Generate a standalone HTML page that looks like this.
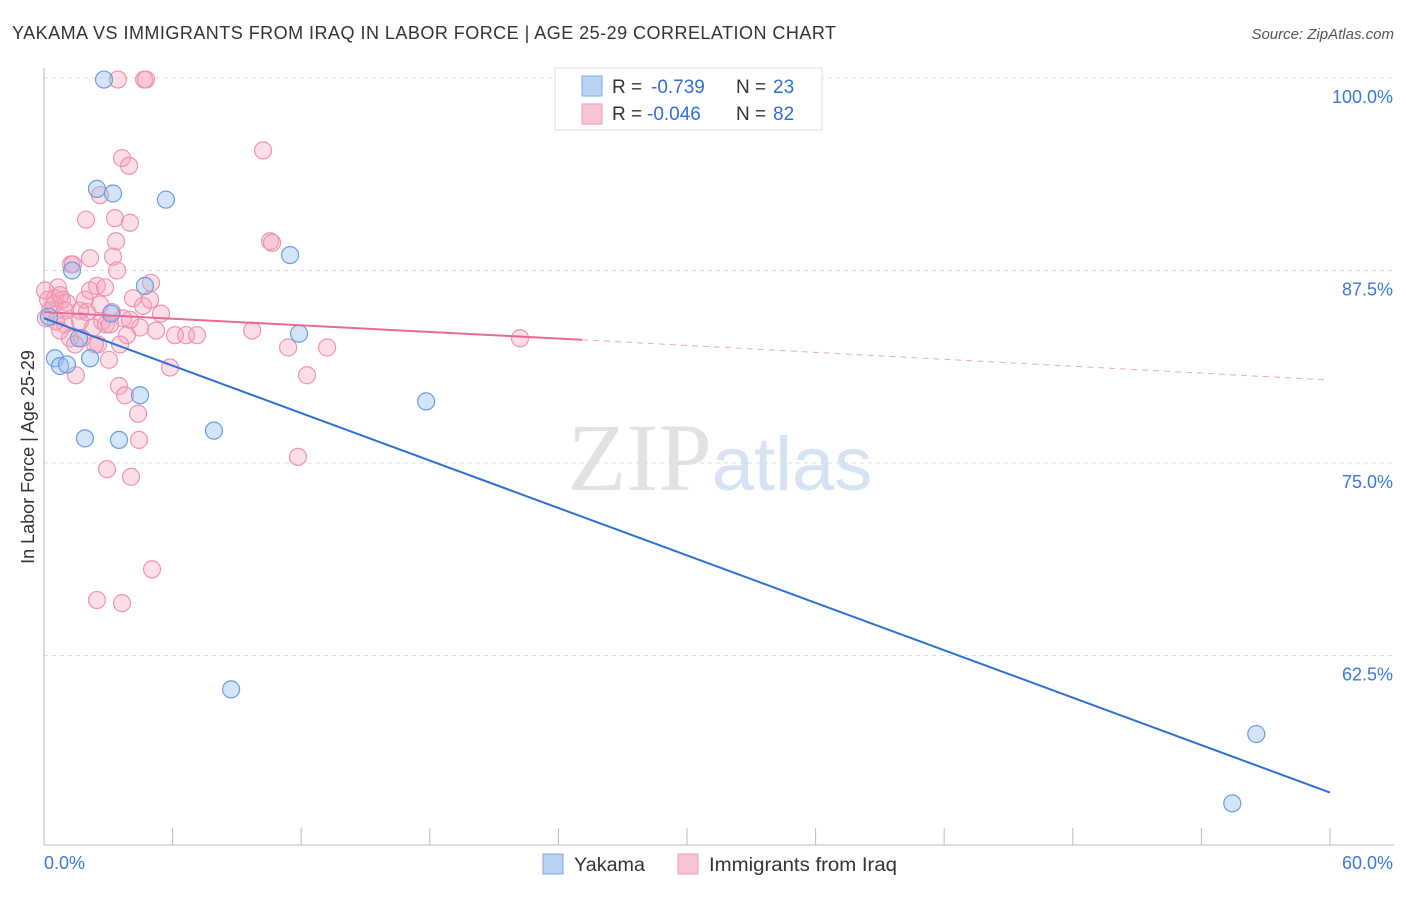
<!DOCTYPE html>
<html><head><meta charset="utf-8"><style>
body{margin:0;background:#fff;font-family:"Liberation Sans",sans-serif}
svg text{font-family:"Liberation Sans",sans-serif}
</style></head><body>
<svg id="chart" width="1406" height="892" xmlns="http://www.w3.org/2000/svg">
<text x="12" y="39" font-size="18" fill="#333" textLength="824" lengthAdjust="spacing">YAKAMA VS IMMIGRANTS FROM IRAQ IN LABOR FORCE | AGE 25-29 CORRELATION CHART</text>
<text x="1394" y="39" font-size="15" fill="#555" text-anchor="end" font-style="italic">Source: ZipAtlas.com</text>
<text x="720" y="490" text-anchor="middle" font-size="96" fill="#e2e2e2"><tspan font-family="Liberation Serif">ZIP</tspan><tspan fill="#d6e3f4" font-size="76">atlas</tspan></text>
<g id="grid"></g>
<g id="axes"></g>
<g id="marks"></g>
<g id="lines"></g>
<text transform="translate(34,457) rotate(-90)" text-anchor="middle" font-size="18" fill="#333">In Labor Force | Age 25-29</text>
<g>
<rect x="555" y="68" width="267" height="62" fill="#fff" stroke="#ddd"/>
<rect x="582" y="76" width="20" height="20" fill="#b9d2f3" stroke="#7fa9e3"/>
<rect x="582" y="104" width="20" height="20" fill="#f9c5d4" stroke="#ef9ab4"/>
<text x="612" y="93" font-size="19" fill="#333">R =</text>
<text x="651" y="93" font-size="19" fill="#2f6fd6">-0.739</text>
<text x="736" y="93" font-size="19" fill="#333">N =</text>
<text x="773" y="93" font-size="19" fill="#2f6fd6">23</text>
<text x="612" y="120" font-size="19" fill="#333">R =</text>
<text x="647" y="120" font-size="19" fill="#2f6fd6">-0.046</text>
<text x="736" y="120" font-size="19" fill="#333">N =</text>
<text x="773" y="120" font-size="19" fill="#2f6fd6">82</text>
</g>
<g>
<rect x="543" y="854" width="20" height="20" fill="#b9d2f3" stroke="#7fa9e3"/>
<text x="574" y="871" font-size="19" fill="#333" textLength="71" lengthAdjust="spacingAndGlyphs">Yakama</text>
<rect x="678" y="854" width="20" height="20" fill="#f9c5d4" stroke="#ef9ab4"/>
<text x="709" y="871" font-size="19" fill="#333" textLength="188" lengthAdjust="spacingAndGlyphs">Immigrants from Iraq</text>
</g>
</svg>
<script>
const yTicks=[100,87.5,75,62.5];
const yTickLabels=["100.0%","87.5%","75.0%","62.5%"];
const xTickLabels=["0.0%","60.0%"];
const blueX=[2.8,2.47,3.22,5.69,11.48,1.31,4.71,3.13,11.9,1.63,2.15,0.51,0.75,1.07,4.48,17.83,7.93,1.91,3.5,8.73,56.56,55.44,0.23];
const blueY=[99.9,92.8,92.5,92.1,88.5,87.5,86.5,84.7,83.4,83.1,81.8,81.8,81.3,81.4,79.4,79.0,77.1,76.6,76.5,60.3,57.4,52.9,84.5];
const pinkX=[3.45,4.67,4.76,3.64,3.97,10.22,2.61,1.96,3.31,4.01,10.55,10.64,3.36,2.15,3.22,1.26,1.35,3.41,4.99,2.47,0.65,0.19,0.51,0.84,1.07,0.28,0.09,1.91,2.61,2.01,3.17,2.71,3.69,4.15,4.62,5.46,0.98,1.68,2.29,2.89,4.48,5.23,1.21,1.77,1.45,2.52,3.87,6.63,7.14,9.71,11.39,13.21,22.21,3.03,5.88,1.49,12.27,3.5,3.78,4.39,4.43,2.94,4.06,11.85,5.04,2.47,3.64,0.47,0.75,0.98,0.56,3.08,2.38,4.95,6.11,2.15,2.85,1.68,0.75,3.55,0.05,4.01];
const pinkY=[99.9,99.9,99.9,94.8,94.3,95.3,92.4,90.8,90.9,90.6,89.4,89.3,89.4,88.3,88.4,87.9,87.9,87.5,86.7,86.5,86.4,85.6,85.7,85.6,85.4,84.9,84.4,85.6,85.3,84.8,84.8,84.2,84.4,85.7,85.2,84.7,84.0,84.2,83.8,84.0,83.8,83.6,83.1,83.1,82.7,82.7,83.3,83.3,83.3,83.6,82.5,82.5,83.1,81.7,81.2,80.7,80.7,80.0,79.4,78.2,76.5,74.6,74.1,75.4,68.1,66.1,65.9,85.3,85.9,84.9,84.2,84.0,82.7,85.6,83.3,86.2,86.4,84.9,83.6,82.7,86.2,84.3];
const blueFit=[84.4,53.6];
const pinkFit=[84.8,83.0,80.4];
const pinkSolidEnd=25.1, pinkDashEnd=59.8;

const X=v=>44+v/60*1286;
const Y=v=>78+(100-v)*15.4;
const NS="http://www.w3.org/2000/svg";
function mk(tag,attrs,parent){const e=document.createElementNS(NS,tag);for(const k in attrs)e.setAttribute(k,attrs[k]);document.getElementById(parent).appendChild(e);return e;}

yTicks.forEach((t,i)=>{
  const g=mk('line',{x1:44,x2:1394,y1:Y(t),y2:Y(t),stroke:'#ddd','stroke-dasharray':'4,4'},'grid');
  
  
  const l=mk('text',{x:1393,y:Y(t)+25,'text-anchor':'end','font-size':18,fill:'#3b78d8'},'axes');
  l.textContent=yTickLabels[i];
  
  
});
const ax=mk('line',{x1:44,x2:1394,y1:845,y2:845,stroke:'#bbb'},'axes');


const ay=mk('line',{x1:44,x2:44,y1:68,y2:845,stroke:'#bbb'},'axes');


for(let i=0;i<=10;i++){
  const t=mk('line',{x1:X(i*6),x2:X(i*6),y1:828,y2:845,stroke:'#bbb'},'axes');
  
  
}
[[0,'start'],[60,'end']].forEach((p,i)=>{
  const t=mk('text',{x:p[0]==0?44:1393,y:869,'text-anchor':p[1],'font-size':18,fill:'#3b78d8'},'axes');
  t.textContent=xTickLabels[i];
  
  
});
pinkX.forEach((x,i)=>{
  const c=mk('circle',{cx:X(x),cy:Y(pinkY[i]),r:8.5,fill:'rgba(245,160,186,0.35)',stroke:'#ee94b0','stroke-width':1.2},'marks');
  
  
});
blueX.forEach((x,i)=>{
  const c=mk('circle',{cx:X(x),cy:Y(blueY[i]),r:8.5,fill:'rgba(150,190,240,0.4)',stroke:'#6a9de0','stroke-width':1.2},'marks');
  
  
});
const bl=mk('line',{x1:X(0),y1:Y(blueFit[0]),x2:X(60),y2:Y(blueFit[1]),stroke:'#2f6fd6','stroke-width':2},'lines');


const pl=mk('line',{x1:X(0),y1:Y(pinkFit[0]),x2:X(pinkSolidEnd),y2:Y(pinkFit[1]),stroke:'#ea6a96','stroke-width':2},'lines');


const pd=mk('line',{x1:X(pinkSolidEnd),y1:Y(pinkFit[1]),x2:X(pinkDashEnd),y2:Y(pinkFit[2]),stroke:'#ea6a96','stroke-width':1,'stroke-dasharray':'6,5',opacity:0.6},'lines');


</script>
</body></html>
